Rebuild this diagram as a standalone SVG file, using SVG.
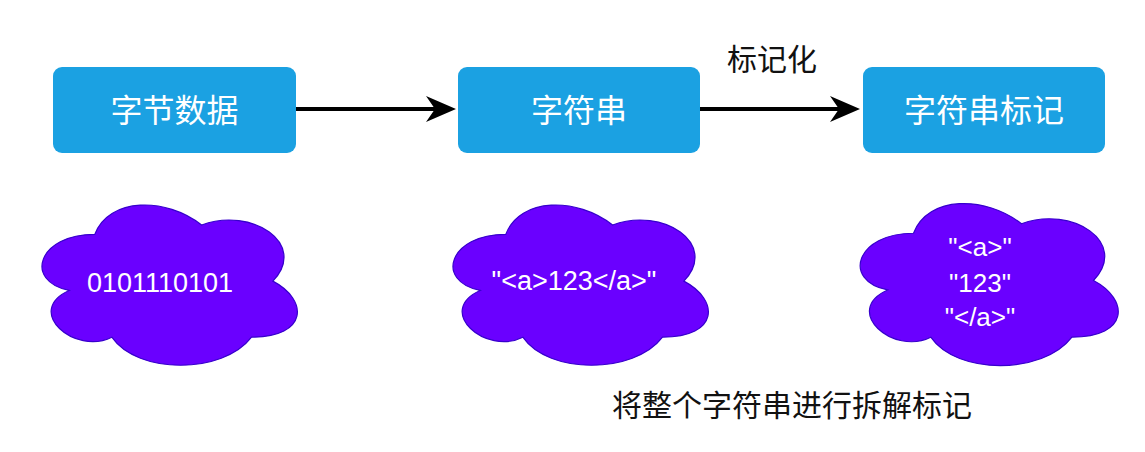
<svg xmlns="http://www.w3.org/2000/svg" xmlns:xlink="http://www.w3.org/1999/xlink" width="1145" height="452" viewBox="0 0 1145 452">
<style>
.box{fill:#1ba1e2;}
.boxtxt{fill:#ffffff;font-family:"Noto Sans CJK SC","Noto Sans",sans-serif;font-size:32px;text-anchor:middle;}
.label{fill:#111111;font-family:"Noto Sans CJK SC","Noto Sans",sans-serif;font-size:30px;text-anchor:middle;}
.cloud{fill:#6a00ff;stroke:#3700cc;stroke-width:1.2;}
.cloudtxt{fill:#ffffff;font-family:"Liberation Sans",Arial,sans-serif;font-size:27px;text-anchor:middle;}
.edge{stroke:#000000;stroke-width:4;fill:none;}
</style>
<defs>
<marker id="arrow" markerUnits="userSpaceOnUse" markerWidth="30" markerHeight="26" viewBox="0 0 30 26" refX="10" refY="13" orient="auto">
<path d="M30,13 L0,0 L9,13 L0,26 Z" fill="#000000"/>
</marker>
<path id="cloudShape" vector-effect="non-scaling-stroke" d="M25,25 C5,25 0,50 16,55 C0,66 18,90 31,80 C40,100 70,100 80,80 C100,80 100,60 87.5,50 C100,30 80,10 62.5,20 C50,5 30,5 25,25 Z"/>
</defs>
<rect width="1145" height="452" fill="#ffffff"/>
<g id="connectors">
<line class="edge" x1="296" y1="109" x2="436" y2="109" marker-end="url(#arrow)"/>
<line class="edge" x1="700" y1="109" x2="840" y2="109" marker-end="url(#arrow)"/>
</g>
<g id="label-tokenize">
<text class="label" x="772" y="70">标记化</text>
</g>
<g id="node-bytes">
<rect class="box" x="53" y="67" width="243" height="86" rx="9"/>
<text class="boxtxt" x="174.5" y="122">字节数据</text>
</g>
<g id="node-string">
<rect class="box" x="458" y="67" width="242" height="86" rx="9"/>
<text class="boxtxt" x="579" y="122">字符串</text>
</g>
<g id="node-tokens">
<rect class="box" x="863" y="67" width="242" height="86" rx="9"/>
<text class="boxtxt" x="984" y="122">字符串标记</text>
</g>
<g id="cloud-bytes">
<use xlink:href="#cloudShape" class="cloud" transform="translate(23.5,187.6) scale(2.85,1.87)"/>
<text class="cloudtxt" x="160" y="292">0101110101</text>
</g>
<g id="cloud-string">
<use xlink:href="#cloudShape" class="cloud" transform="translate(434.5,187.6) scale(2.85,1.87)"/>
<text class="cloudtxt" x="574" y="290">"&lt;a&gt;123&lt;/a&gt;"</text>
</g>
<g id="cloud-tokens">
<use xlink:href="#cloudShape" class="cloud" transform="translate(841.5,186) scale(2.88,1.89)"/>
<text class="cloudtxt" x="980" y="256" style="font-size:26px">"&lt;a&gt;"</text>
<text class="cloudtxt" x="980" y="292" style="font-size:26px">"123"</text>
<text class="cloudtxt" x="980" y="326" style="font-size:26px">"&lt;/a&gt;"</text>
</g>
<g id="label-split">
<text class="label" x="792" y="416">将整个字符串进行拆解标记</text>
</g>
</svg>
